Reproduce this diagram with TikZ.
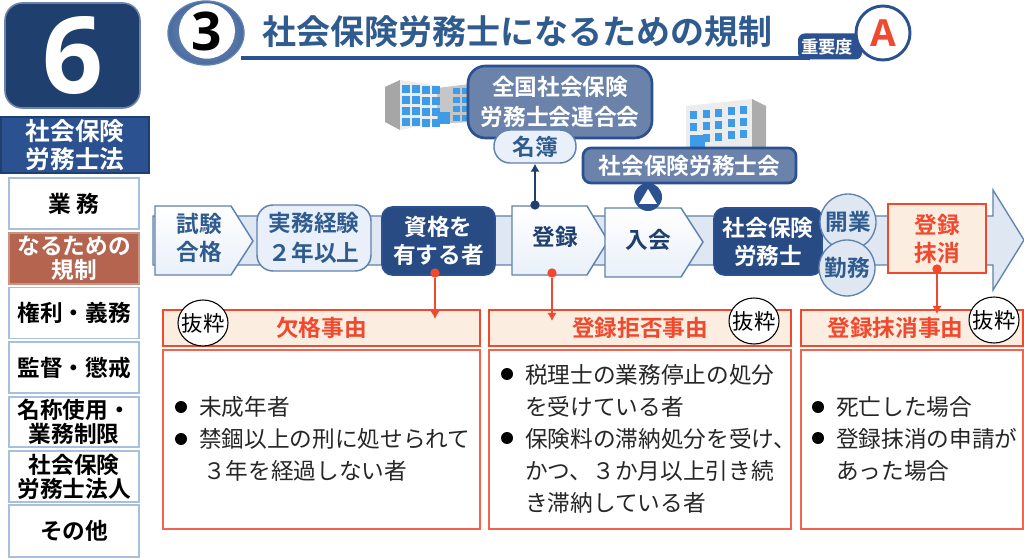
\documentclass[tikz,border=0pt]{standalone}
\usepackage{fontspec}
\setmainfont{Noto Sans CJK JP}[BoldFont={Noto Sans CJK JP Bold}]
\newfontfamily\latinbold{Open Sans}[BoldFont={Open Sans Bold}]
\usetikzlibrary{arrows.meta,calc}
\definecolor{navy}{HTML}{1F3F6F}
\definecolor{blu}{HTML}{2B5190}
\definecolor{titleblue}{HTML}{2F5B8F}
\definecolor{pale}{HTML}{E9F0F9}
\definecolor{band}{HTML}{DFE7F3}
\definecolor{edge}{HTML}{5F82AE}
\definecolor{slate}{HTML}{6B82AB}
\definecolor{rd}{HTML}{F0492E}
\definecolor{peach}{HTML}{FBEDE0}
\definecolor{brick}{HTML}{B5654F}
\definecolor{tabedge}{HTML}{A9C0DC}
\definecolor{winblue}{HTML}{3D9BE8}
\tikzset{
  x=0.75pt,y=-0.75pt,
  wh/.style 2 args={minimum width=#1*0.75pt,minimum height=#2*0.75pt,inner sep=0pt},
  lab/.style={font=\fontsize{17}{21}\selectfont\bfseries,align=center,inner sep=0pt},
  tabbox/.style={draw=tabedge,line width=1.1pt,fill=white,text=black,lab},
  navybox/.style={draw=blu,line width=1.3pt,fill=blu!92!black,text=white,rounded corners=8pt,lab},
  softbox/.style={draw=edge,line width=1.1pt,fill=pale,text=titleblue,rounded corners=12pt,lab},
  slatebox/.style={draw=blu,line width=2pt,fill=slate,text=white,lab},
  roundlab/.style={circle,draw=edge,line width=1pt,fill=band,text=titleblue,lab,minimum size=42pt},
  penta/.style={draw=edge,line width=1.1pt,top color=white,bottom color=pale},
  redhead/.style={draw=rd,line width=1.1pt,fill=peach,text=rd,lab},
  redbody/.style={draw=rd!85,line width=1.1pt,fill=white},
  excerpt/.style={ellipse,draw=black,line width=.8pt,fill=white,text=black,font=\fontsize{16}{17}\selectfont},
  item/.style={anchor=west,inner sep=0pt,text=black!85,font=\fontsize{17}{17}\selectfont},
  bul/.style={circle,fill=black,inner sep=0pt,minimum size=9pt},
  redarrow/.style={draw=rd,line width=1.6pt,-{Latex[length=6pt,width=7pt]}},
  reddot/.style={circle,fill=rd,inner sep=0pt,minimum size=7pt},
  navyarrow/.style={draw=navy,line width=1.4pt,-{Latex[length=6pt,width=7pt]}},
  navydot/.style={circle,fill=navy,inner sep=0pt,minimum size=7pt},
}
\usetikzlibrary{shapes.geometric}
\begin{document}
\begin{tikzpicture}
\useasboundingbox (0,0) rectangle (1024,559);
\fill[white] (0,0) rectangle (1024,559);
% chapter box
\node[wh={135}{105},draw=slate,line width=1.2pt,fill=navy,rounded corners=13pt,text=white,font=\latinbold\fontsize{80}{80}\selectfont\bfseries] (chap) at (72.5,55.5) {6};
\node[wh={148}{56},draw=navy,line width=.8pt,fill=blu,text=white,lab,font=\fontsize{18.5}{21}\selectfont\bfseries] (law) at (75,145) {社会保険\\労務士法};
% side tabs
\node[tabbox,wh={130}{51}] (t1) at (74,203.5) {業 務};
\node[tabbox,wh={130}{51},draw=brick!70,fill=brick,text=white] (t2) at (74,258.5) {なるための\\[-3pt]規制};
\node[tabbox,wh={130}{51}] (t3) at (74,313) {権利・義務};
\node[tabbox,wh={130}{51}] (t4) at (74,367.5) {監督・懲戒};
\node[tabbox,wh={130}{50}] (t5) at (74,422) {名称使用・\\[-3pt]業務制限};
\node[tabbox,wh={130}{51}] (t6) at (74,476.5) {社会保険\\[-3pt]労務士法人};
\node[tabbox,wh={130}{52}] (t7) at (74,531) {その他};
% title
\node[ellipse,wh={76}{64},draw=edge,line width=1pt,inner color=edge!80,outer color=blu!85] (num) at (206,33) {};
\node[ellipse,wh={56}{46},fill=white,font=\latinbold\fontsize{40}{40}\selectfont\bfseries,text=black] (numi) at (207,31) {3};
\node[anchor=west,inner sep=0pt,text=titleblue,font=\fontsize{25.5}{26}\selectfont\bfseries] (title) at (262,32) {社会保険労務士になるための規制};
\coordinate (ruleL) at (241,58);
\coordinate (ruleR) at (810,58);
\draw[blu,line width=2.4pt] (ruleL) -- (ruleR);
\node[wh={64}{26},fill=blu,rounded corners=5pt,text=white,font=\fontsize{13}{13}\selectfont\bfseries,text width=58*.75pt,align=left] (imp) at (830,46.5) {重要度};
\node[circle,wh={54}{54},draw=blu,line width=2.2pt,fill=white,text=rd,font=\latinbold\fontsize{28}{28}\selectfont\bfseries] (rank) at (883,33) {A};
% left building
\fill[gray!70] (385,87) -- (400,80) -- (400,130) -- (385,122) -- cycle;
\fill[gray!15] (400,80) -- (440,86) -- (440,122) -- (400,130) -- cycle;
\fill[gray!45] (437,88) -- (470,84) -- (470,122) -- (437,124) -- cycle;
\foreach \r in {0,1,2,3}{\foreach \c in {0,1,2,3}{\fill[winblue] ({402+\c*10},{85+\r*11+\c*0.3}) rectangle ++(7.5,8);}}
\foreach \r in {0,1,2,3}{\foreach \c in {0,1}{\fill[winblue] ({453+\c*9},{88+\r*9}) rectangle ++(6.5,6.5);}}
\fill[winblue] (438,112) rectangle (450,124);
% right building
\fill[winblue] (726,107) arc[start angle=180,end angle=0,radius=10];
\fill[gray!15] (686,106) -- (752,99) -- (752,150) -- (686,150) -- cycle;
\fill[gray!65] (752,99) -- (766,106) -- (766,150) -- (752,150) -- cycle;
\foreach \r in {0,1,2}{\foreach \c in {0,1,2,3,4}{\fill[winblue] ({690+\c*12.5},{111+\r*12-\c*1.2}) rectangle ++(7,8);}}
\fill[winblue] (690,135) rectangle (705,150);
% associations
\node[slatebox,wh={184}{72},rounded corners=13pt] (fed) at (560,102) {全国社会保険\\[1pt]労務士会連合会};
\node[softbox,wh={82}{33}] (roll) at (535,146.5) {名簿};
\node[slatebox,wh={213}{35},rounded corners=6pt] (assoc) at (689.5,165.5) {社会保険労務士会};
% main band
\path[draw=edge,line width=1pt,fill=band] (153,216) -- (993,216) -- (993,190) -- (1024,240) -- (993,290) -- (993,265) -- (153,265) -- cycle;
% flow
\path[penta] (155,206) -- (231,206) -- (253,241) -- (231,275) -- (155,275) -- cycle;
\node[lab,text=titleblue] (pass) at (199,238) {試験\\合格};
\node[softbox,wh={114}{66}] (exp) at (314,238) {実務経験\\[1pt]２年以上};
\node[navybox,wh={113}{68}] (qual) at (438.5,241) {資格を\\有する者};
\path[penta] (512,206) -- (587,206) -- (608,241) -- (587,275) -- (512,275) -- cycle;
\node[lab,text=navy] (reg) at (555,237) {登録};
\path[penta] (605,208) -- (681,208) -- (703,242) -- (681,277) -- (605,277) -- cycle;
\node[lab,text=navy] (join) at (648,240) {入会};
\node[navybox,wh={108}{67}] (sr) at (768,241.5) {社会保険\\労務士};
\node[roundlab] (kai) at (848,222) {開業};
\node[roundlab] (kin) at (847,268) {勤務};
\node[draw=rd,line width=1.2pt,fill=peach,text=rd,lab,wh={98}{69}] (del) at (937,238.5) {登録\\抹消};
% triangle marker
\node[circle,fill=blu,wh={28}{28}] (mark) at (648,197) {};
\fill[white] ($(mark)+(0,-8)$) -- ($(mark)+(9,7)$) -- ($(mark)+(-9,7)$) -- cycle;
% navy connector
\coordinate (regtop) at (535,205);
\draw[navyarrow] (regtop) -- (roll.south);
\node[navydot] (regdot) at (regtop) {};
% red headers and bodies
\node[redhead,wh={317}{36}] (h1) at (321.5,328) {欠格事由};
\node[redhead,wh={302}{36}] (h2) at (640,328) {登録拒否事由};
\node[redhead,wh={222}{36}] (h3) at (912,328) {\hspace*{-25pt}登録抹消事由};
\node[redbody,wh={317}{179}] (b1) at (321.5,439.5) {};
\node[redbody,wh={302}{179}] (b2) at (640,439.5) {};
\node[redbody,wh={222}{179}] (b3) at (912,439.5) {};
% red connectors
\node[reddot] (d1) at (435,273) {};
\node[reddot] (d2) at (552,273) {};
\node[reddot] (d3) at (937,269) {};
\coordinate (e1) at (435,319);
\coordinate (e2) at (552,321);
\coordinate (e3) at (937,314);
\draw[redarrow] (d1) -- (e1);
\draw[redarrow] (d2) -- (e2);
\draw[redarrow] (d3) -- (e3);
% excerpt marks
\node[excerpt,minimum width=37.5pt,minimum height=34.5pt,inner xsep=-3.2pt,inner ysep=0pt] (x1) at (203,323) {抜粋};
\node[excerpt,minimum width=37.5pt,minimum height=34.5pt,inner xsep=-3.2pt,inner ysep=0pt] (x2) at (754,321) {抜粋};
\node[excerpt,minimum width=37.5pt,minimum height=34.5pt,inner xsep=-3.2pt,inner ysep=0pt] (x3) at (994,320) {抜粋};
% list 1
\node[bul] (p1) at (181,407) {}; \node[item] (i1) at (199,407) {未成年者};
\node[bul] (p2) at (181,439) {}; \node[item] (i2) at (199,439) {禁錮以上の刑に処せられて};
\node[item] (i3) at (203,471) {３年を経過しない者};
% list 2
\node[bul] (p3) at (507,374) {}; \node[item] (j1) at (525,375) {税理士の業務停止の処分};
\node[item] (j2) at (525,407) {を受けている者};
\node[bul] (p4) at (507,438) {}; \node[item] (j3) at (525,439) {保険料の滞納処分を受け、};
\node[item] (j4) at (525,471) {かつ、３か月以上引き続};
\node[item] (j5) at (525,503) {き滞納している者};
% list 3
\node[bul] (p5) at (818,407) {}; \node[item] (k1) at (836,407) {死亡した場合};
\node[bul] (p6) at (818,438) {}; \node[item] (k2) at (836,439) {登録抹消の申請が};
\node[item] (k3) at (836,471) {あった場合};
\end{tikzpicture}
\end{document}
